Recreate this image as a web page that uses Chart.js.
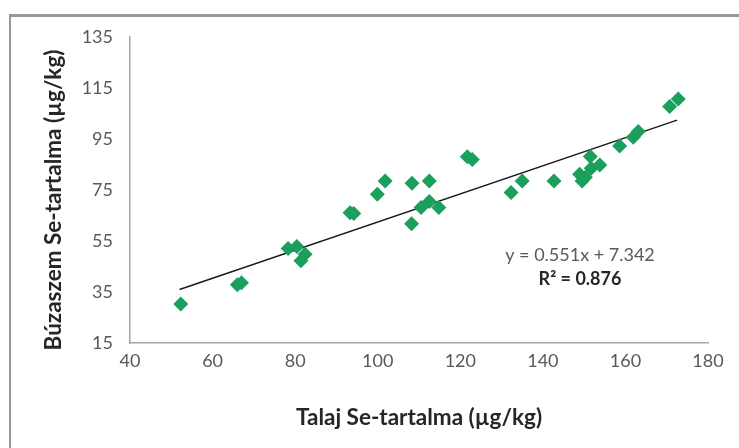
<!DOCTYPE html>
<html>
<head>
<meta charset="utf-8">
<script src="https://cdn.jsdelivr.net/npm/chart.js@4/dist/chart.umd.min.js"></script>
<style>
  html, body { margin: 0; padding: 0; background: #fff; }
  canvas { display: block; }
</style>
</head>
<body>
<canvas id="myChart" width="739" height="448"></canvas>
<script>
// soil Se (x) vs wheat grain Se (y)
var soilSe = [52.3, 66.0, 67.0, 78.3, 80.4, 82.4, 81.4, 93.3, 94.2, 99.9, 101.8, 108.2, 108.3,
              110.5, 112.5, 112.5, 114.8, 121.7, 122.9, 132.3, 135.0, 142.7, 148.9, 149.5, 150.3,
              151.5, 151.7, 153.8, 158.6, 161.9, 163.1, 170.7, 172.8];
var grainSe = [30.3, 37.8, 38.6, 52.1, 52.8, 49.8, 47.3, 66.1, 65.8, 73.3, 78.5, 61.8, 77.6,
               68.1, 70.5, 78.5, 68.1, 88.0, 87.0, 74.0, 78.5, 78.5, 81.2, 78.5, 80.0,
               88.1, 83.5, 84.8, 92.3, 95.7, 97.9, 107.7, 110.7];
var trendX = [52, 172.5];
var trendY = [36.0, 102.4];
var eqLines = ['y = 0.551x + 7.342', 'R\u00b2 = 0.876'];
var xTitle = 'Talaj Se-tartalma (\u00b5g/kg)';
var yTitle = 'B\u00fazaszem Se-tartalma (\u00b5g/kg)';

var points = [];
for (var i = 0; i < soilSe.length; i++) {
  points.push({x: soilSe[i], y: grainSe[i]});
}
var trend = [];
for (var j = 0; j < trendX.length; j++) {
  trend.push({x: trendX[j], y: trendY[j]});
}

var FONT = "Lato, 'Open Sans', sans-serif";

// outer chart frame, y title and regression equation text
var framePlugin = {
  id: 'frame',
  afterDraw: function(chart) {
    var c = chart.ctx;
    c.save();
    c.fillStyle = '#999999';
    c.fillRect(9, 14, 730, 3);
    c.fillRect(9, 14, 2, 434);
    // y title, a bit below the axis middle like the original
    c.translate(54, 200);
    c.rotate(-Math.PI / 2);
    c.textAlign = 'center';
    c.textBaseline = 'middle';
    c.fillStyle = '#262626';
    c.font = 'bold 22.5px ' + FONT;
    c.fillText(yTitle, 0, 0);
    c.restore();
  }
};
var eqPlugin = {
  id: 'eqLabel',
  afterDatasetsDraw: function(chart) {
    var c = chart.ctx;
    var xs = chart.scales.x, ys = chart.scales.y;
    var cx = xs.getPixelForValue(149);
    c.save();
    c.textAlign = 'center';
    c.textBaseline = 'middle';
    c.fillStyle = '#595959';
    c.font = '18px ' + FONT;
    c.fillText(eqLines[0], cx, ys.getPixelForValue(49.5));
    c.fillStyle = '#262626';
    c.font = 'bold 18px ' + FONT;
    c.fillText(eqLines[1], cx, ys.getPixelForValue(40.2));
    c.restore();
  }
};

var ctx = document.getElementById("myChart");
var myChart = new Chart(ctx, {
  type: 'scatter',
  data: {
    datasets: [{
      label: 'Se',
      data: points,
      pointStyle: 'rectRot',
      pointRadius: 7.5,
      pointHoverRadius: 7.5,
      backgroundColor: '#1a9f5c',
      borderColor: '#1a9f5c',
      borderWidth: 0
    }, {
      type: 'line',
      label: 'Trend',
      data: trend,
      borderColor: '#1a1a1a',
      borderWidth: 1.5,
      pointRadius: 0,
      fill: false
    }]
  },
  options: {
    responsive: false,
    animation: false,
    layout: { padding: { left: 38, right: 31, top: 37, bottom: 0 } },
    plugins: {
      legend: { display: false },
      tooltip: { enabled: false }
    },
    scales: {
      x: {
        type: 'linear',
        min: 40, max: 180,
        grid: { display: false, drawTicks: false },
        border: { display: true, color: '#a6a6a6', width: 1.5 },
        ticks: { stepSize: 20, padding: 7, color: '#595959', font: { family: FONT, size: 18 } },
        title: { display: true, text: xTitle, color: '#262626', padding: { top: 0, bottom: 17 },
                 font: { family: FONT, size: 22.5, weight: 'bold' } },
        afterFit: function(s) { s.height = 105; }
      },
      y: {
        type: 'linear',
        min: 15, max: 135,
        grid: { display: false, drawTicks: false },
        border: { display: true, color: '#a6a6a6', width: 1.5 },
        ticks: { stepSize: 20, padding: 17, color: '#595959', font: { family: FONT, size: 18 } },
        title: { display: false },
        afterFit: function(s) { s.width = 92; }
      }
    }
  },
  plugins: [framePlugin, eqPlugin]
});
</script>
</body>
</html>
